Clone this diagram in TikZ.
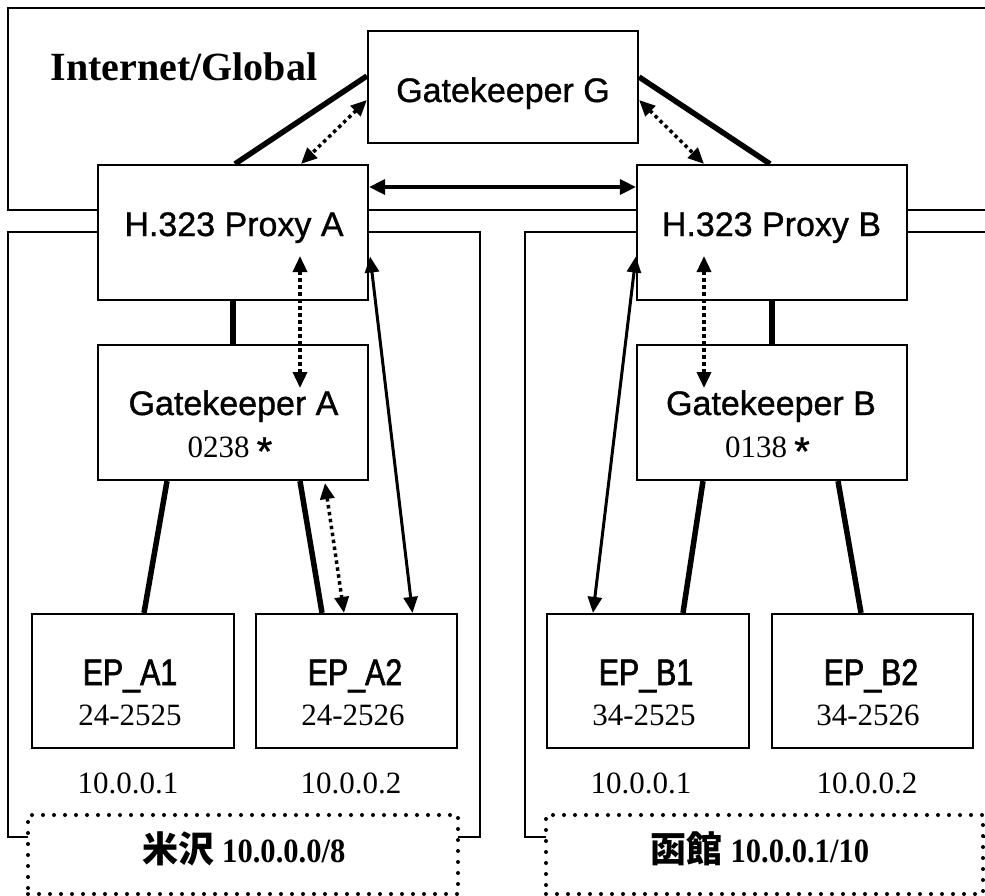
\documentclass[tikz,border=0pt]{standalone}
\usepackage{fontspec}
\setmainfont{Liberation Serif}
\setsansfont{Liberation Sans}[FakeBold=1]
\newfontfamily\epfont{Liberation Sans}[FakeStretch=0.82,FakeBold=1.5]
\newfontfamily\cjk{Noto Sans CJK JP}
\newfontfamily\netfont{Liberation Serif}[FakeStretch=0.9]
\usetikzlibrary{arrows.meta}
\newcommand{\astr}{{\sffamily\fontsize{40bp}{44bp}\selectfont\raisebox{-8bp}{*}}}
\begin{document}
\begin{tikzpicture}[x=1bp,y=-1bp,
  box/.style={draw, line width=2.2bp, fill=white, inner sep=0pt},
  region/.style={draw, line width=1.8bp},
  heavy/.style={line width=5.5bp},
  medarrow/.style={line width=3.5bp, {Triangle[length=16bp,width=15bp]}-{Triangle[length=16bp,width=15bp]}},
  medarrowone/.style={line width=3bp, {Triangle[length=16bp,width=14bp]}-{Triangle[length=16bp,width=14bp]}},
  dotarrow/.style={line width=3.5bp, dash pattern=on 3.5bp off 3.5bp, {Triangle[length=16bp,width=14bp]}-{Triangle[length=16bp,width=14bp]}},
  dotbox/.style={draw, fill=white, line width=4bp, dash pattern=on 0bp off 11bp, line cap=round, inner sep=0pt},
  lblsans/.style={font=\sffamily\fontsize{34bp}{40bp}\selectfont, inner sep=0pt, anchor=base},
  lblnum/.style={font=\fontsize{31bp}{36bp}\selectfont, inner sep=0pt, anchor=base},
  lblep/.style={font=\epfont\fontsize{37bp}{42bp}\selectfont, inner sep=0pt, anchor=base},
  lblnet/.style={font=\netfont\bfseries\fontsize{34bp}{38bp}\selectfont, inner sep=0pt, anchor=base}
]
\useasboundingbox (0,0) rectangle (985,896);
\clip (0,0) rectangle (985,896);

% zones
\draw[region] (8,8) rectangle (1000,210);
\draw[region] (8,232) rectangle (480,837);
\draw[region] (525,232) rectangle (1000,837);

% boxes
\node[box, minimum width=270bp, minimum height=112bp] (gg) at (503,87) {};
\node[box, minimum width=270bp, minimum height=135bp] (pa) at (233,232.5) {};
\node[box, minimum width=270bp, minimum height=135bp] (pb) at (772,232.5) {};
\node[box, minimum width=270bp, minimum height=135bp] (ga) at (233,412.5) {};
\node[box, minimum width=270bp, minimum height=135bp] (gb) at (772,412.5) {};
\node[box, minimum width=202bp, minimum height=134bp] (ea1) at (133,681) {};
\node[box, minimum width=201bp, minimum height=134bp] (ea2) at (356.5,681) {};
\node[box, minimum width=202bp, minimum height=134bp] (eb1) at (648,681) {};
\node[box, minimum width=201bp, minimum height=134bp] (eb2) at (872.5,681) {};

% labels
\node[font=\bfseries\fontsize{40bp}{44bp}\selectfont, inner sep=0pt, anchor=base] (inet) at (184,80) {Internet/Global};
\node[lblsans] (tgg) at (503,102) {Gatekeeper G};
\node[lblsans] (tpa) at (234,236) {H.323 Proxy A};
\node[lblsans] (tpb) at (771.5,236) {H.323 Proxy B};
\node[lblsans] (tga) at (233.5,415) {Gatekeeper A};
\node[lblsans] (tgb) at (771,415) {Gatekeeper B};
\node[lblnum] (nga) at (230,457) {0238\kern7bp\astr};
\node[lblnum] (ngb) at (767.5,457) {0138\kern7bp\astr};
\node[lblep] (tea1) at (130,685) {EP\_A1};
\node[lblep] (tea2) at (355,685) {EP\_A2};
\node[lblep] (teb1) at (646,685) {EP\_B1};
\node[lblep] (teb2) at (871,685) {EP\_B2};
\node[lblnum] (nea1) at (130,725) {24-2525};
\node[lblnum] (nea2) at (353,725) {24-2526};
\node[lblnum] (neb1) at (644,725) {34-2525};
\node[lblnum] (neb2) at (868,725) {34-2526};
\node[lblnum] (ipa1) at (128,793) {10.0.0.1};
\node[lblnum] (ipa2) at (351,793) {10.0.0.2};
\node[lblnum] (ipb1) at (641,793) {10.0.0.1};
\node[lblnum] (ipb2) at (867,793) {10.0.0.2};

% connectors
\draw[heavy] ([yshift=11bp]gg.west) -- ([xshift=2bp]pa.north);
\draw[dotarrow] ([yshift=-13bp]gg.west) -- ([xshift=68bp]pa.north);
\draw[heavy] ([yshift=10bp]gg.east) -- ([xshift=-2bp]pb.north);
\draw[dotarrow] ([yshift=-13bp]gg.east) -- ([xshift=-68bp]pb.north);
\draw[medarrow] ([yshift=45.5bp]pa.east) -- ([yshift=45.5bp]pb.west);
\draw[heavy] (pa.south) -- (ga.north);
\draw[heavy] (pb.south) -- (gb.north);
\draw[dotarrow] ([xshift=67bp,yshift=-23.5bp]pa.center) -- ([xshift=67bp,yshift=24.5bp]ga.center);
\draw[dotarrow] ([xshift=-68bp,yshift=-23.5bp]pb.center) -- ([xshift=-68bp,yshift=24.5bp]gb.center);
\draw[medarrowone] ([xshift=1bp,yshift=-24bp]pa.east) -- ([xshift=56bp]ea2.north);
\draw[medarrowone] ([yshift=-24bp]pb.west) -- ([xshift=-55bp]eb1.north);
\draw[heavy] ([xshift=-66bp]ga.south) -- ([xshift=11bp]ea1.north);
\draw[heavy] ([xshift=67bp]ga.south) -- ([xshift=-34.5bp]ea2.north);
\draw[dotarrow] ([xshift=92bp,yshift=-2bp]ga.south) -- ([xshift=-12.5bp]ea2.north);
\draw[heavy] ([xshift=-69bp]gb.south) -- ([xshift=35bp]eb1.north);
\draw[heavy] ([xshift=66bp]gb.south) -- ([xshift=-11.5bp]eb2.north);

% site boxes
\node[dotbox, minimum width=430bp, minimum height=79bp] (siteA) at (243,854.5) {};
\node[dotbox, minimum width=437bp, minimum height=79bp] (siteB) at (764.5,854.5) {};
\node[lblnet] (tsa) at (244,862) {{\cjk\bfseries\fontsize{36bp}{40bp}\selectfont 米沢} 10.0.0.0/8};
\node[lblnet] (tsb) at (760,862) {{\cjk\bfseries\fontsize{36bp}{40bp}\selectfont 函館} 10.0.0.1/10};
\end{tikzpicture}
\end{document}
